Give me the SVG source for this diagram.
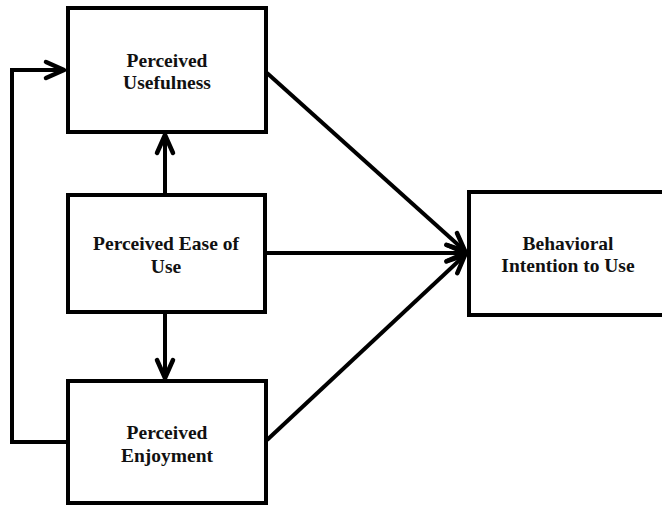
<svg xmlns="http://www.w3.org/2000/svg" width="662" height="506" viewBox="0 0 662 506">
<style>
.box{fill:#fff;stroke:#000;stroke-width:4}
.lbl{font-family:"Liberation Serif","Times New Roman",serif;font-weight:bold;font-size:19.5px;fill:#111;text-anchor:middle}
.con{fill:none;stroke:#000;stroke-width:4;marker-end:url(#arr)}
</style>
<defs>
<marker id="arr" markerUnits="userSpaceOnUse" viewBox="-22 -12 26 24" markerWidth="26" markerHeight="24" refX="0" refY="0" orient="auto">
<path d="M-18,-8 L0,0 L-18,8" fill="none" stroke="#000" stroke-width="4.5" stroke-linecap="round" stroke-linejoin="round"/>
</marker>
</defs>
<rect width="662" height="506" fill="#fff"/>
<g id="connectors">
<polyline class="con" points="68,442 12,442 12,70 64,70"/>
<line class="con" x1="165" y1="195" x2="165" y2="135"/>
<line class="con" x1="165" y1="312" x2="165" y2="378"/>
<line class="con" x1="267" y1="73" x2="465" y2="251"/>
<line class="con" x1="265" y1="253" x2="465" y2="253"/>
<line class="con" x1="267" y1="440" x2="465" y2="255"/>
</g>
<g id="pu">
<rect class="box" x="68" y="8" width="198" height="124"/>
<text class="lbl" x="167" y="67">Perceived</text>
<text class="lbl" x="167" y="89">Usefulness</text>
</g>
<g id="peou">
<rect class="box" x="68" y="195" width="197" height="117"/>
<text class="lbl" x="166" y="250">Perceived Ease of</text>
<text class="lbl" x="166" y="273">Use</text>
</g>
<g id="pe">
<rect class="box" x="68" y="381" width="198" height="122"/>
<text class="lbl" x="167" y="439">Perceived</text>
<text class="lbl" x="167" y="462">Enjoyment</text>
</g>
<g id="bi">
<rect class="box" x="469" y="192" width="200" height="123"/>
<text class="lbl" x="568" y="250">Behavioral</text>
<text class="lbl" x="568" y="272">Intention to Use</text>
</g>
</svg>
